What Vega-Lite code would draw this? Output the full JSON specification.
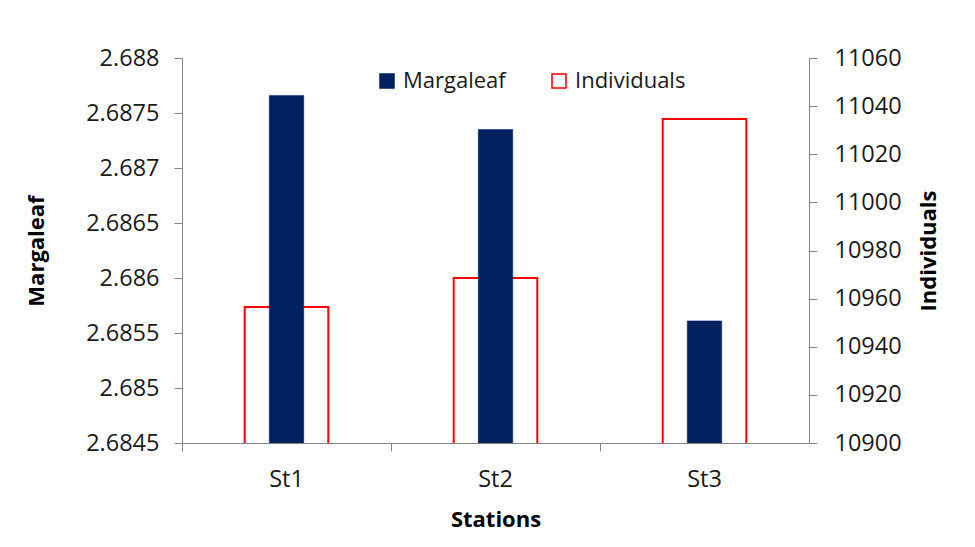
{
  "$schema": "https://vega.github.io/schema/vega-lite/v6.json",
  "width": 627,
  "height": 385,
  "autosize": "none",
  "padding": {"left": 182, "top": 58, "right": 166, "bottom": 104},
  "background": "white",
  "config": {
    "view": {"stroke": null},
    "font": "Open Sans",
    "axis": {
      "domainColor": "#868686",
      "domainWidth": 1,
      "tickColor": "#868686",
      "tickWidth": 1,
      "tickSize": 8,
      "grid": false,
      "labelFont": "Open Sans",
      "labelFontSize": 23.5,
      "labelColor": "#1a1a1a",
      "titleFont": "Open Sans",
      "titleFontSize": 22,
      "titleFontWeight": "bold",
      "titleColor": "#000000"
    },
    "legend": {
      "labelFont": "Open Sans",
      "labelFontSize": 22,
      "labelColor": "#1a1a1a"
    }
  },
  "data": {
    "values": [
      {"station": "St1", "series": "Margaleaf", "value": 2.68766},
      {"station": "St2", "series": "Margaleaf", "value": 2.68735},
      {"station": "St3", "series": "Margaleaf", "value": 2.68561},
      {"station": "St1", "series": "Individuals", "value": 10956.5},
      {"station": "St2", "series": "Individuals", "value": 10968.6},
      {"station": "St3", "series": "Individuals", "value": 11034.6}
    ]
  },
  "encoding": {
    "x": {
      "field": "station",
      "type": "nominal",
      "sort": ["St1", "St2", "St3"],
      "scale": {"paddingInner": 0, "paddingOuter": 0},
      "axis": {
        "title": "Stations",
        "labelAngle": 0,
        "bandPosition": 0,
        "labelPadding": 16,
        "titlePadding": 19
      }
    },
    "fill": {
      "field": "series",
      "type": "nominal",
      "scale": {"domain": ["Margaleaf", "Individuals"], "range": ["#002060", "#ffffff"]},
      "legend": {
        "title": null,
        "orient": "none",
        "legendX": 194,
        "legendY": 12,
        "direction": "horizontal",
        "symbolType": "square",
        "symbolSize": 196,
        "symbolStrokeWidth": 1.5,
        "labelOffset": 5,
        "columnPadding": 42,
        "padding": 0
      }
    },
    "stroke": {
      "field": "series",
      "type": "nominal",
      "scale": {"domain": ["Margaleaf", "Individuals"], "range": ["#002060", "#ff0000"]},
      "legend": {
        "title": null,
        "orient": "none",
        "legendX": 194,
        "legendY": 12,
        "direction": "horizontal",
        "symbolType": "square",
        "symbolSize": 196,
        "symbolStrokeWidth": 1.5,
        "labelOffset": 5,
        "columnPadding": 42,
        "padding": 0
      }
    }
  },
  "layer": [
    {
      "transform": [{"filter": "datum.series === 'Individuals'"}],
      "mark": {"type": "bar", "width": {"band": 0.4}, "strokeWidth": 2, "clip": true},
      "encoding": {
        "y": {
          "field": "value",
          "type": "quantitative",
          "scale": {"domain": [10900, 11060], "zero": false, "nice": false},
          "axis": {
            "orient": "right",
            "title": "Individuals",
            "values": [10900, 10920, 10940, 10960, 10980, 11000, 11020, 11040, 11060],
            "format": "d",
            "labelPadding": 17,
            "titleAngle": 270,
            "titleBaseline": "top",
            "titlePadding": 17
          }
        }
      }
    },
    {
      "transform": [{"filter": "datum.series === 'Margaleaf'"}],
      "mark": {"type": "bar", "width": {"band": 0.165}, "strokeWidth": 0.5, "clip": true},
      "encoding": {
        "y": {
          "field": "value",
          "type": "quantitative",
          "scale": {"domain": [2.6845, 2.688], "zero": false, "nice": false},
          "axis": {
            "orient": "left",
            "title": "Margaleaf",
            "values": [2.6845, 2.685, 2.6855, 2.686, 2.6865, 2.687, 2.6875, 2.688],
            "format": "~f",
            "labelPadding": 15,
            "titlePadding": 37
          }
        }
      }
    }
  ],
  "resolve": {"scale": {"y": "independent"}}
}
